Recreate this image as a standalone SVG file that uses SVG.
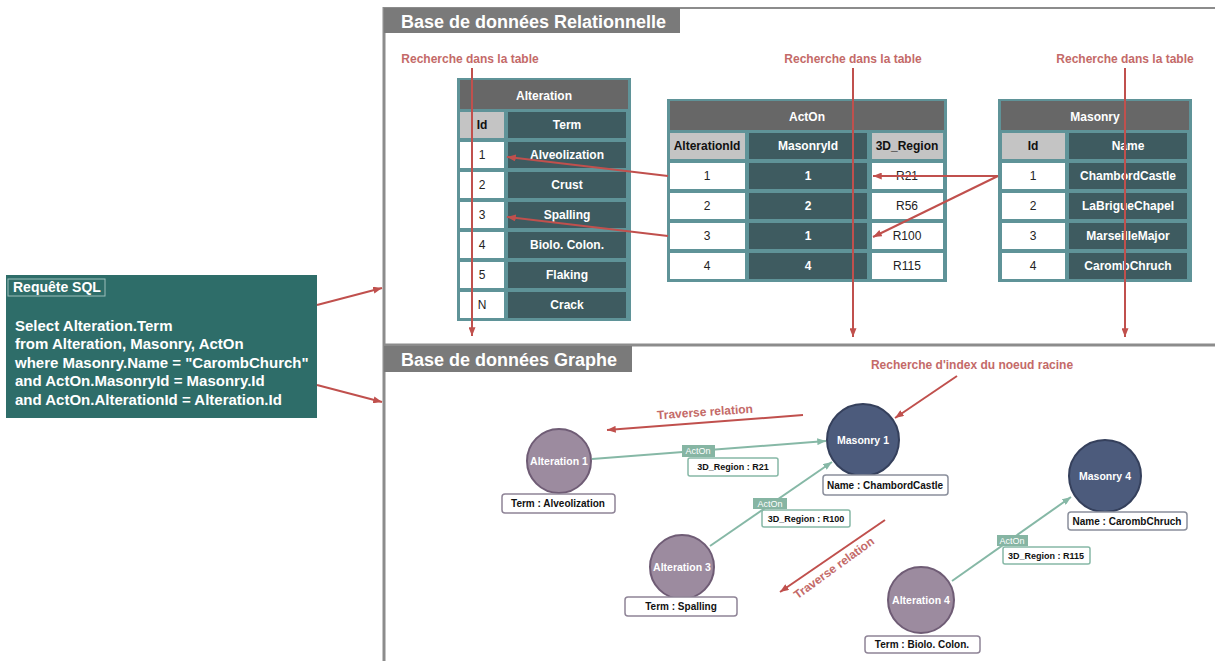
<svg xmlns="http://www.w3.org/2000/svg" width="1215" height="661" viewBox="0 0 1215 661">
<style>
text{font-family:"Liberation Sans",Arial,sans-serif}
.hdr{fill:#ffffff;font-size:18px;font-weight:bold}
.frame{fill:#5f9398}
.thead{fill:#676767}
.dark{fill:#3e5b60}
.lgray{fill:#c4c4c4}
.white{fill:#ffffff}
.th{fill:#ffffff;font-size:12px;font-weight:bold;text-anchor:middle}
.tk{fill:#111;font-size:12px;font-weight:bold;text-anchor:middle}
.tn{fill:#222;font-size:12px;text-anchor:middle}
.tw{fill:#ffffff;font-size:12px;font-weight:bold;text-anchor:middle}
.ann{fill:#c46a68;font-size:12px;font-weight:bold;text-anchor:middle}
.red{stroke:#c0504d;stroke-width:2;fill:none}
.grn{stroke:#86b8a6;stroke-width:2;fill:none}
.alt{fill:#9c8b9f;stroke:#6f5c75;stroke-width:2}
.mas{fill:#4c5b7c;stroke:#35405c;stroke-width:2}
.ntxt{fill:#ffffff;font-size:10.5px;font-weight:bold;text-anchor:middle}
.lbl{fill:#ffffff;stroke:#8f8497;stroke-width:1.5}
.lblm{fill:#ffffff;stroke:#8a8f9c;stroke-width:1.5}
.ltxt{fill:#111;font-size:10px;font-weight:bold;text-anchor:middle}
.rbox{fill:#ffffff;stroke:#86b8a6;stroke-width:1.5}
.rtxt{fill:#111;font-size:9px;font-weight:bold;text-anchor:middle}
.tag{fill:#86b5a3}
.tagt{fill:#ffffff;font-size:9px;text-anchor:middle}
.sql{fill:#ffffff;font-size:15px;font-weight:bold}
</style>
<defs>
<marker id="ar" viewBox="0 0 10 8" refX="10" refY="4" markerWidth="9" markerHeight="7" markerUnits="userSpaceOnUse" orient="auto"><path d="M0,0 L10,4 L0,8 z" fill="#c0504d"/></marker>
<marker id="ag" viewBox="0 0 10 8" refX="10" refY="4" markerWidth="9" markerHeight="7" markerUnits="userSpaceOnUse" orient="auto"><path d="M0,0 L10,4 L0,8 z" fill="#86b8a6"/></marker>
</defs>
<rect width="1215" height="661" fill="#ffffff"/>

<g id="frame">
<line x1="383" y1="8" x2="1215" y2="8" stroke="#8c8c8c" stroke-width="2"/>
<line x1="384" y1="7" x2="384" y2="661" stroke="#8c8c8c" stroke-width="3"/>
<line x1="383" y1="345" x2="1215" y2="345" stroke="#8c8c8c" stroke-width="3"/>
<rect x="384" y="8" width="296" height="25" fill="#7a7a7a"/>
<text class="hdr" x="401" y="28">Base de données Relationnelle</text>
<rect x="384" y="346" width="248" height="26" fill="#7a7a7a"/>
<text class="hdr" x="401" y="366">Base de données Graphe</text>
</g>

<g id="sql">
<rect x="6" y="275" width="311" height="143" fill="#2e6d69"/>
<rect x="8" y="279" width="97" height="17" fill="none" stroke="#9cbfbb" stroke-width="1"/>
<text x="13" y="292" fill="#ffffff" font-size="14" font-weight="bold">Requête SQL</text>
<text class="sql" x="15" y="331">Select Alteration.Term</text>
<text class="sql" x="15" y="349">from Alteration, Masonry, ActOn</text>
<text class="sql" x="15" y="368">where Masonry.Name = "CarombChurch"</text>
<text class="sql" x="15" y="386">and ActOn.MasonryId = Masonry.Id</text>
<text class="sql" x="15" y="405">and ActOn.AlterationId = Alteration.Id</text>
</g>

<g id="table-alteration">
<rect class="frame" x="457" y="78" width="174" height="243"/>
<rect class="thead" x="460" y="80" width="168" height="29"/>
<text class="th" x="544" y="100">Alteration</text>
<rect class="lgray" x="460" y="112" width="44" height="26"/>
<text class="tk" x="482" y="129">Id</text>
<rect class="dark" x="508" y="112" width="118" height="26"/>
<text class="tw" x="567" y="129">Term</text>
<rect class="white" x="460" y="142" width="44" height="26"/><text class="tn" x="482" y="159">1</text>
<rect class="dark" x="508" y="142" width="118" height="26"/><text class="tw" x="567" y="159">Alveolization</text>
<rect class="white" x="460" y="172" width="44" height="26"/><text class="tn" x="482" y="189">2</text>
<rect class="dark" x="508" y="172" width="118" height="26"/><text class="tw" x="567" y="189">Crust</text>
<rect class="white" x="460" y="202" width="44" height="26"/><text class="tn" x="482" y="219">3</text>
<rect class="dark" x="508" y="202" width="118" height="26"/><text class="tw" x="567" y="219">Spalling</text>
<rect class="white" x="460" y="232" width="44" height="26"/><text class="tn" x="482" y="249">4</text>
<rect class="dark" x="508" y="232" width="118" height="26"/><text class="tw" x="567" y="249">Biolo. Colon.</text>
<rect class="white" x="460" y="262" width="44" height="26"/><text class="tn" x="482" y="279">5</text>
<rect class="dark" x="508" y="262" width="118" height="26"/><text class="tw" x="567" y="279">Flaking</text>
<rect class="white" x="460" y="292" width="44" height="26"/><text class="tn" x="482" y="309">N</text>
<rect class="dark" x="508" y="292" width="118" height="26"/><text class="tw" x="567" y="309">Crack</text>
</g>

<g id="table-acton">
<rect class="frame" x="667" y="99" width="280" height="183"/>
<rect class="thead" x="670" y="101" width="274" height="29"/>
<text class="th" x="807" y="121">ActOn</text>
<rect class="lgray" x="670" y="133" width="75" height="26"/><text class="tk" x="707" y="150">AlterationId</text>
<rect class="dark" x="749" y="133" width="118" height="26"/><text class="tw" x="808" y="150">MasonryId</text>
<rect class="lgray" x="872" y="133" width="71" height="26"/><text class="tk" x="907" y="150">3D_Region</text>
<rect class="white" x="670" y="163" width="75" height="26"/><text class="tn" x="707" y="180">1</text>
<rect class="dark" x="749" y="163" width="118" height="26"/><text class="tw" x="808" y="180">1</text>
<rect class="white" x="872" y="163" width="71" height="26"/><text class="tn" x="907" y="180">R21</text>
<rect class="white" x="670" y="193" width="75" height="26"/><text class="tn" x="707" y="210">2</text>
<rect class="dark" x="749" y="193" width="118" height="26"/><text class="tw" x="808" y="210">2</text>
<rect class="white" x="872" y="193" width="71" height="26"/><text class="tn" x="907" y="210">R56</text>
<rect class="white" x="670" y="223" width="75" height="26"/><text class="tn" x="707" y="240">3</text>
<rect class="dark" x="749" y="223" width="118" height="26"/><text class="tw" x="808" y="240">1</text>
<rect class="white" x="872" y="223" width="71" height="26"/><text class="tn" x="907" y="240">R100</text>
<rect class="white" x="670" y="253" width="75" height="26"/><text class="tn" x="707" y="270">4</text>
<rect class="dark" x="749" y="253" width="118" height="26"/><text class="tw" x="808" y="270">4</text>
<rect class="white" x="872" y="253" width="71" height="26"/><text class="tn" x="907" y="270">R115</text>
</g>

<g id="table-masonry">
<rect class="frame" x="998" y="99" width="194" height="183"/>
<rect class="thead" x="1001" y="101" width="188" height="29"/>
<text class="th" x="1095" y="121">Masonry</text>
<rect class="lgray" x="1002" y="133" width="63" height="26"/><text class="tk" x="1033" y="150">Id</text>
<rect class="dark" x="1069" y="133" width="118" height="26"/><text class="tw" x="1128" y="150">Name</text>
<rect class="white" x="1002" y="163" width="63" height="26"/><text class="tn" x="1033" y="180">1</text>
<rect class="dark" x="1069" y="163" width="118" height="26"/><text class="tw" x="1128" y="180">ChambordCastle</text>
<rect class="white" x="1002" y="193" width="63" height="26"/><text class="tn" x="1033" y="210">2</text>
<rect class="dark" x="1069" y="193" width="118" height="26"/><text class="tw" x="1128" y="210">LaBrigueChapel</text>
<rect class="white" x="1002" y="223" width="63" height="26"/><text class="tn" x="1033" y="240">3</text>
<rect class="dark" x="1069" y="223" width="118" height="26"/><text class="tw" x="1128" y="240">MarseilleMajor</text>
<rect class="white" x="1002" y="253" width="63" height="26"/><text class="tn" x="1033" y="270">4</text>
<rect class="dark" x="1069" y="253" width="118" height="26"/><text class="tw" x="1128" y="270">CarombChruch</text>
</g>

<g id="annotations">
<text class="ann" x="470" y="63">Recherche dans la table</text>
<text class="ann" x="853" y="63">Recherche dans la table</text>
<text class="ann" x="1125" y="63">Recherche dans la table</text>
<text class="ann" x="972" y="369">Recherche d'index du noeud racine</text>
<text class="ann" x="705" y="416" transform="rotate(-4 705 412)">Traverse relation</text>
<text class="ann" x="834" y="572" transform="rotate(-36 834 568)">Traverse relation</text>
</g>

<g id="node-alteration1">
<circle class="alt" cx="559" cy="461" r="32"/>
<text class="ntxt" x="559" y="465">Alteration 1</text>
<rect class="lbl" x="502" y="494" width="113" height="19" rx="3"/>
<text class="ltxt" x="558" y="507">Term : Alveolization</text>
</g>
<g id="node-masonry1">
<circle class="mas" cx="863" cy="440" r="36"/>
<text class="ntxt" x="863" y="444">Masonry 1</text>
<rect class="lblm" x="823" y="475" width="125" height="20" rx="3"/>
<text class="ltxt" x="885" y="489">Name : ChambordCastle</text>
</g>
<g id="node-masonry4">
<circle class="mas" cx="1105" cy="476" r="36"/>
<text class="ntxt" x="1105" y="480">Masonry 4</text>
<rect class="lblm" x="1068" y="512" width="119" height="18" rx="3"/>
<text class="ltxt" x="1127" y="525">Name : CarombChruch</text>
</g>
<g id="node-alteration3">
<circle class="alt" cx="682" cy="567" r="32"/>
<text class="ntxt" x="682" y="571">Alteration 3</text>
<rect class="lbl" x="625" y="597" width="112" height="19" rx="3"/>
<text class="ltxt" x="681" y="610">Term : Spalling</text>
</g>
<g id="node-alteration4">
<circle class="alt" cx="921" cy="600" r="33"/>
<text class="ntxt" x="921" y="604">Alteration 4</text>
<rect class="lbl" x="865" y="636" width="115" height="17" rx="3"/>
<text class="ltxt" x="922" y="648">Term : Biolo. Colon.</text>
</g>

<g id="connectors">
<line class="red" x1="472" y1="68" x2="472" y2="336" marker-end="url(#ar)"/>
<line class="red" x1="853" y1="68" x2="853" y2="337" marker-end="url(#ar)"/>
<line class="red" x1="1125" y1="68" x2="1125" y2="337" marker-end="url(#ar)"/>
<line class="red" x1="998" y1="176" x2="873" y2="176" marker-end="url(#ar)"/>
<line class="red" x1="998" y1="176" x2="873" y2="237" marker-end="url(#ar)"/>
<line class="red" x1="668" y1="176" x2="507" y2="157" marker-end="url(#ar)"/>
<line class="red" x1="668" y1="236" x2="507" y2="217" marker-end="url(#ar)"/>
<line class="red" x1="317" y1="305" x2="382" y2="288" marker-end="url(#ar)"/>
<line class="red" x1="317" y1="385" x2="382" y2="402" marker-end="url(#ar)"/>
<line class="red" x1="803" y1="415" x2="607" y2="430" marker-end="url(#ar)"/>
<line class="red" x1="957" y1="376" x2="895" y2="418" marker-end="url(#ar)"/>
<line class="red" x1="885" y1="520" x2="780" y2="592" marker-end="url(#ar)"/>

<line class="grn" x1="592" y1="459" x2="826" y2="441" marker-end="url(#ag)"/>
<rect class="tag" x="682" y="445" width="33" height="12"/>
<text class="tagt" x="698" y="454">ActOn</text>
<rect class="rbox" x="688" y="458" width="90" height="18" rx="2"/>
<text class="rtxt" x="733" y="470">3D_Region : R21</text>

<line class="grn" x1="710" y1="546" x2="832" y2="462" marker-end="url(#ag)"/>
<rect class="tag" x="753" y="498" width="34" height="11"/>
<text class="tagt" x="770" y="507">ActOn</text>
<rect class="rbox" x="762" y="510" width="88" height="17" rx="2"/>
<text class="rtxt" x="806" y="522">3D_Region : R100</text>

<line class="grn" x1="952" y1="581" x2="1071" y2="497" marker-end="url(#ag)"/>
<rect class="tag" x="997" y="535" width="31" height="11"/>
<text class="tagt" x="1012" y="544">ActOn</text>
<rect class="rbox" x="1003" y="547" width="87" height="17" rx="2"/>
<text class="rtxt" x="1046" y="559">3D_Region : R115</text>
</g>
</svg>
